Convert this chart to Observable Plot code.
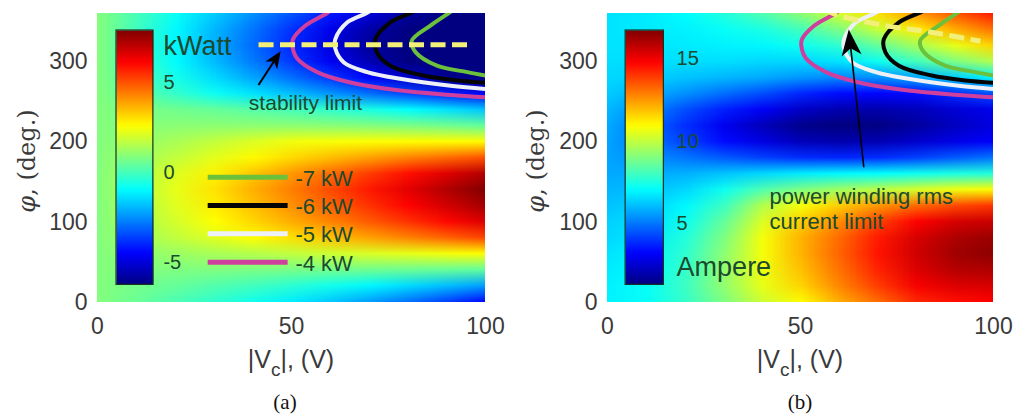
<!DOCTYPE html>
<html lang="en">
<head>
<meta charset="utf-8">
<title>Power and current maps versus |Vc| and phase</title>
<script src="https://cdn.jsdelivr.net/npm/d3@7"></script>
<script src="https://cdn.jsdelivr.net/npm/@observablehq/plot@0.6"></script>
<style>
  html, body { margin: 0; padding: 0; background: #fff; }
  #figure { position: relative; width: 1017px; height: 414px; overflow: hidden; background: #fff; }
  #figure > .panel { position: absolute; top: 0; }
  #figure > .caption {
    position: absolute; top: 391px; transform: translateX(-50%);
    font-family: "Liberation Serif", "Times New Roman", serif; font-size: 21px; line-height: 22px; color: #111;
  }
</style>
</head>
<body>
<div id="figure">
  <div class="panel" id="panel-a" style="left:0"></div>
  <div class="panel" id="panel-b" style="left:507px"></div>
  <div class="caption" style="left:285px">(a)</div>
  <div class="caption" style="left:800px">(b)</div>
</div>
<script>
// ---- sample grid: |Vc| (V) across, phase angle (deg.) up ----
const voltage = [0, 10, 20, 30, 40, 50, 60, 70, 80, 90, 100];
const phase = [0, 20, 40, 60, 80, 100, 120, 140, 160, 180, 200, 220, 240, 260, 280, 300, 320, 340, 360];

// transferred power, kW (one row per phase angle)
const powerKW = [
  [0.85, 0.50, 0.10, -0.30, -0.70, -1.20, -1.70, -2.30, -2.90, -3.60, -4.40],
  [0.85, 0.65, 0.45, 0.20, -0.05, -0.35, -0.70, -1.05, -1.45, -1.85, -2.30],
  [0.85, 0.85, 0.80, 0.80, 0.75, 0.70, 0.65, 0.60, 0.55, 0.50, 0.40],
  [0.85, 1.03, 1.20, 1.38, 1.55, 1.73, 1.90, 2.08, 2.25, 2.43, 2.60],
  [0.85, 1.29, 1.72, 2.16, 2.59, 3.03, 3.46, 3.90, 4.33, 4.77, 5.20],
  [0.85, 1.43, 2.00, 2.58, 3.15, 3.73, 4.30, 4.88, 5.45, 6.03, 6.60],
  [0.85, 1.51, 2.16, 2.82, 3.47, 4.13, 4.78, 5.44, 6.09, 6.75, 7.40],
  [0.85, 1.56, 2.26, 2.97, 3.67, 4.38, 5.08, 5.79, 6.49, 7.20, 7.90],
  [0.85, 1.49, 2.12, 2.76, 3.39, 4.03, 4.66, 5.30, 5.93, 6.57, 7.20],
  [0.85, 1.30, 1.75, 2.20, 2.65, 3.10, 3.50, 3.90, 4.30, 4.65, 5.00],
  [0.85, 1.10, 1.40, 1.75, 2.10, 2.40, 2.50, 2.55, 2.60, 2.60, 2.60],
  [0.85, 0.90, 0.95, 1.00, 1.00, 1.00, 0.95, 0.85, 0.75, 0.60, 0.40],
  [0.85, 0.75, 0.60, 0.45, 0.25, 0.00, -0.30, -0.60, -0.95, -1.35, -1.80],
  [0.85, 0.31, -0.24, -0.79, -1.33, -1.88, -2.42, -2.97, -3.51, -4.06, -4.60],
  [0.85, 0.09, -0.68, -1.45, -2.21, -2.98, -3.74, -4.51, -5.27, -6.04, -6.80],
  [0.85, -0.07, -0.98, -1.90, -2.81, -3.73, -4.64, -5.56, -6.47, -7.39, -8.30],
  [0.85, -0.12, -1.09, -2.06, -3.03, -4.00, -4.97, -5.94, -6.91, -7.88, -8.85],
  [0.85, -0.09, -1.02, -1.96, -2.89, -3.83, -4.76, -5.70, -6.63, -7.57, -8.50],
  [0.85, 0.02, -0.82, -1.66, -2.49, -3.33, -4.16, -5.00, -5.83, -6.67, -7.50]
];

// power winding rms current, A (one row per phase angle)
const currentA = [
  [6.9, 7.2, 7.9, 9.0, 10.2, 11.0, 12.2, 13.2, 14.2, 14.6, 14.8],
  [6.9, 7.2, 8.0, 9.3, 10.6, 11.6, 12.8, 13.9, 14.9, 15.3, 15.4],
  [6.8, 7.1, 7.9, 9.3, 10.7, 11.9, 13.1, 14.3, 15.3, 15.9, 16.0],
  [6.7, 7.0, 7.8, 9.2, 10.8, 12.1, 13.3, 14.5, 15.5, 16.2, 16.5],
  [6.5, 6.8, 7.6, 9.0, 10.8, 12.1, 13.2, 14.4, 15.4, 16.0, 16.3],
  [6.4, 6.6, 7.3, 8.6, 10.4, 11.7, 12.7, 13.8, 14.8, 15.4, 15.6],
  [6.2, 6.4, 7.0, 8.0, 9.8, 10.8, 11.7, 12.5, 13.2, 13.7, 14.0],
  [6.0, 6.1, 6.5, 7.3, 8.3, 9.0, 9.5, 9.9, 10.3, 10.7, 11.0],
  [5.8, 5.8, 5.9, 6.2, 6.5, 6.8, 7.0, 7.1, 7.3, 7.5, 7.6],
  [5.7, 5.4, 5.0, 4.6, 4.2, 3.9, 3.8, 3.9, 4.2, 4.6, 5.0],
  [5.7, 5.0, 4.2, 3.4, 2.8, 2.2, 2.0, 2.1, 2.5, 2.9, 3.2],
  [5.8, 4.9, 3.9, 3.0, 2.2, 1.5, 1.3, 1.4, 1.8, 2.3, 2.8],
  [6.0, 5.3, 4.4, 3.7, 3.1, 2.4, 2.0, 2.0, 2.2, 2.6, 3.0],
  [6.3, 5.9, 5.4, 4.9, 4.4, 3.8, 3.4, 3.3, 3.4, 3.9, 4.5],
  [6.5, 6.4, 6.2, 6.0, 5.8, 5.5, 5.3, 5.4, 5.8, 6.4, 7.0],
  [6.6, 6.6, 6.6, 6.6, 6.5, 6.5, 6.7, 7.3, 8.1, 9.0, 9.8],
  [6.7, 6.7, 6.8, 6.9, 7.0, 7.3, 7.8, 8.6, 9.6, 10.6, 11.6],
  [6.7, 6.8, 6.9, 7.2, 7.5, 8.1, 9.0, 10.1, 11.2, 12.2, 13.1],
  [6.7, 6.8, 7.1, 7.6, 8.3, 9.2, 10.3, 11.4, 12.5, 13.5, 14.4]
];

// colour limits and colorbar ticks
const powerRange = [-6.24, 7.87];
const currentRange = [1.32, 16.7];
const powerTicks = [5, 0, -5];
const currentTicks = [15, 10, 5];

// axis ticks
const xTicks = [0, 50, 100];
const yTicks = [0, 100, 200, 300];

// iso-power curves, [|Vc|, phase] pairs
const levelsKW = [-7, -6, -5, -4];
const isoMinus4 = [[100, 255.7], [91, 258.6], [78, 264], [65.2, 274], [56.6, 287], [51.5, 303.5], [50.2, 320], [50.4, 328], [53.6, 345], [59.6, 362], [60.4, 367]];
const isoMinus5 = [[100, 266], [91, 270], [78, 278.6], [69.5, 287], [63.5, 299], [61.3, 316], [61.3, 328], [64.4, 349], [69.9, 362], [70.8, 367]];
const isoMinus6 = [[100, 273.6], [92.7, 276.5], [84, 282.7], [75.5, 295], [72, 311.7], [71.6, 328], [75.5, 349], [82, 363.6], [82.8, 367]];
const isoMinus7 = [[100, 282.7], [95.3, 287], [87.5, 295], [82, 311.7], [81, 326], [85.8, 345], [91.4, 363.6], [92.1, 367]];

// operating limits
const stabilityLimit = [[41.5, 321], [96.6, 321]];
const currentLimit = [[56, 366], [59, 359], [66, 350.5], [73, 344], [80, 339.5], [87, 334], [96.6, 325.4]];

// ---- styling ----
const SANS = "'Liberation Sans', Arial, Helvetica, sans-serif";
const SERIF = "'DejaVu Serif', 'Liberation Serif', serif";
const NOTE = "#1b4a2e";
const INK = "#3a3a3a";
const isoColor = new Map([[-7, "#6cc13c"], [-6, "#050505"], [-5, "#eef0f8"], [-4, "#cf3f9d"]]);
const isoCurves = new Map([[-7, isoMinus7], [-6, isoMinus6], [-5, isoMinus5], [-4, isoMinus4]]);
const jetColors = ["#000080", "#0000ff", "#0080ff", "#00ffff", "#80ff80", "#ffff00", "#ff8000", "#ff0000", "#800000"];

function jetScale([lo, hi]) {
  return {
    type: "linear",
    domain: jetColors.map((_, i) => lo + (hi - lo) * i / (jetColors.length - 1)),
    range: jetColors,
    interpolate: "rgb",
    clamp: true
  };
}

// smooth map: one raster pixel per grid sample, upscaled by the browser
function fieldMark(values) {
  const cells = phase.flatMap((p, i) => voltage.map((v, j) => ({v, p, value: values[i][j]})));
  const dv = voltage[1] - voltage[0], dp = phase[1] - phase[0];
  return Plot.raster(cells, {
    x: "v", y: "p", fill: "value",
    x1: voltage[0] - dv / 2, x2: voltage[voltage.length - 1] + dv / 2,
    y1: phase[0] - dp / 2, y2: phase[phase.length - 1] + dp / 2,
    width: voltage.length, height: phase.length,
    interpolate: "none", imageRendering: "auto", clip: true
  });
}

function isoMarks() {
  return [-4, -5, -6, -7].map((level) =>
    Plot.line(isoCurves.get(level), {
      x: (d) => d[0], y: (d) => d[1], curve: "catmull-rom",
      stroke: isoColor.get(level), strokeWidth: 4, clip: true
    })
  );
}

function limitMark(points) {
  return Plot.line(points, {
    x: (d) => d[0], y: (d) => d[1], curve: "catmull-rom",
    stroke: "#f3f07a", strokeWidth: 5, strokeDasharray: "15,6.5", strokeLinecap: "butt", clip: true
  });
}

function colorbarMarks(range, ticks, name, bar, labelX, nameY) {
  const [lo, hi] = range;
  const n = 64;
  const ramp = d3.range(n).map((i) => lo + (hi - lo) * (i + 0.5) / n);
  const toPhi = d3.scaleLinear(range, [bar.y1, bar.y2]);
  return [
    Plot.raster(ramp, {
      x: (bar.x1 + bar.x2) / 2, y: (d) => toPhi(d), fill: (d) => d,
      x1: bar.x1, x2: bar.x2, y1: bar.y1, y2: bar.y2,
      width: 1, height: n, interpolate: "none", imageRendering: "auto"
    }),
    Plot.rect([bar], {x1: "x1", x2: "x2", y1: "y1", y2: "y2", fill: "none", stroke: "#17301f", strokeWidth: 1.2}),
    Plot.text(ticks, {x: labelX, y: (d) => toPhi(d), text: (d) => String(d), textAnchor: "start", fontSize: 20, fill: NOTE, fontFamily: SANS}),
    Plot.text([name], {x: labelX, y: nameY, text: (d) => d, textAnchor: "start", fontSize: 27, fill: NOTE, fontFamily: SANS})
  ];
}

// straight arrow with a filled, notched head
function arrowMarks(tail, tip, geom, headLen, headHalf, shaftWidth) {
  const dxs = (tip[0] - tail[0]) * geom.pxV;
  const dys = -(tip[1] - tail[1]) * geom.pxPhi;
  const len = Math.hypot(dxs, dys);
  const ux = dxs / len, uy = dys / len;
  const angle = Math.atan2(ux, -uy) * 180 / Math.PI;
  const back = headLen * 0.6;
  const shaftEnd = [tip[0] - back * ux / geom.pxV, tip[1] + back * uy / geom.pxPhi];
  const head = {
    draw(context) {
      context.moveTo(0, 0);
      context.lineTo(headHalf, headLen);
      context.lineTo(0, headLen * 0.72);
      context.lineTo(-headHalf, headLen);
      context.closePath();
    }
  };
  return [
    Plot.link([{a: tail, b: shaftEnd}], {
      x1: (d) => d.a[0], y1: (d) => d.a[1], x2: (d) => d.b[0], y2: (d) => d.b[1],
      stroke: "#000", strokeWidth: shaftWidth
    }),
    Plot.dot([tip], {x: (d) => d[0], y: (d) => d[1], symbol: head, r: 10, fill: "#000", stroke: "none", rotate: angle})
  ];
}

function addAxisLabels(svg, geom, yLabelX) {
  const s = d3.select(svg);
  const cx = geom.marginLeft + geom.frameW / 2;
  const xl = s.append("text")
    .attr("x", cx).attr("y", 368)
    .attr("text-anchor", "middle")
    .attr("font-family", SANS).attr("font-size", 25).attr("fill", INK);
  xl.append("tspan").text("|V");
  xl.append("tspan").attr("font-size", 19).attr("dy", 8).text("c");
  xl.append("tspan").attr("dy", -8).text("|, (V)");

  const yl = s.append("text")
    .attr("transform", `translate(${yLabelX},161) rotate(-90)`)
    .attr("text-anchor", "middle")
    .attr("font-family", SERIF).attr("font-size", 24).attr("fill", INK);
  yl.append("tspan").attr("font-style", "italic").text("φ");
  yl.append("tspan").text(", (deg.)");
}

function makePanel({width, marginLeft, marginRight, marks, colorRange}) {
  const height = 380, marginTop = 13, marginBottom = 78;
  const frameW = width - marginLeft - marginRight;
  const frameH = height - marginTop - marginBottom;
  const geom = {marginLeft, frameW, pxV: frameW / 100, pxPhi: frameH / 360};
  const svg = Plot.plot({
    width, height, marginLeft, marginRight, marginTop, marginBottom,
    style: {fontFamily: SANS, background: "#fff", overflow: "visible"},
    x: {domain: [0, 100]},
    y: {domain: [0, 360]},
    color: jetScale(colorRange),
    marks: [
      ...marks(geom),
      Plot.axisX({ticks: xTicks, tickSize: 0, tickPadding: 15, fontSize: 23, color: INK, label: null}),
      Plot.axisY({ticks: yTicks, tickSize: 0, tickPadding: 10, fontSize: 23, color: INK, label: null})
    ]
  });
  return {svg, geom};
}

// ---- (a) power map ----
const legendRows = new Map([[-7, 156], [-6, 120.8], [-5, 85.6], [-4, 50.2]]);
const panelA = makePanel({
  width: 507, marginLeft: 97, marginRight: 22, colorRange: powerRange,
  marks: (geom) => [
    fieldMark(powerKW),
    ...isoMarks(),
    limitMark(stabilityLimit),
    ...colorbarMarks(powerRange, powerTicks, "kWatt", {x1: 4.9, x2: 14.4, y1: 22, y2: 338.8}, 17, 318.8),
    Plot.link(levelsKW, {
      x1: 28.4, x2: 49, y1: (d) => legendRows.get(d), y2: (d) => legendRows.get(d),
      stroke: (d) => isoColor.get(d), strokeWidth: 5, strokeLinecap: "butt"
    }),
    Plot.text(levelsKW, {
      x: 51, y: (d) => legendRows.get(d) - 2, text: (d) => `${d} kW`,
      textAnchor: "start", fontSize: 22, fill: NOTE, fontFamily: SANS
    }),
    Plot.text(["stability limit"], {x: 53.6, y: 248, text: (d) => d, fontSize: 21, fill: NOTE, fontFamily: SANS}),
    ...arrowMarks([41.5, 271], [47.2, 313], geom, 17, 7, 2)
  ]
});
addAxisLabels(panelA.svg, panelA.geom, 35);
document.getElementById("panel-a").append(panelA.svg);

// ---- (b) current map ----
const panelB = makePanel({
  width: 510, marginLeft: 100, marginRight: 24, colorRange: currentRange,
  marks: (geom) => [
    fieldMark(currentA),
    ...isoMarks(),
    limitMark(currentLimit),
    ...colorbarMarks(currentRange, currentTicks, "Ampere", {x1: 4.7, x2: 14.6, y1: 22, y2: 338.8}, 17.9, 44),
    Plot.text(["power winding rms", "current limit"], {
      x: 42, y: (d, i) => (i === 0 ? 131 : 100), text: (d) => d,
      textAnchor: "start", fontSize: 22, fill: NOTE, fontFamily: SANS
    }),
    ...arrowMarks([66.4, 168.5], [62.5, 340], geom, 26, 10, 1.6)
  ]
});
addAxisLabels(panelB.svg, panelB.geom, 37);
document.getElementById("panel-b").append(panelB.svg);
</script>
</body>
</html>
